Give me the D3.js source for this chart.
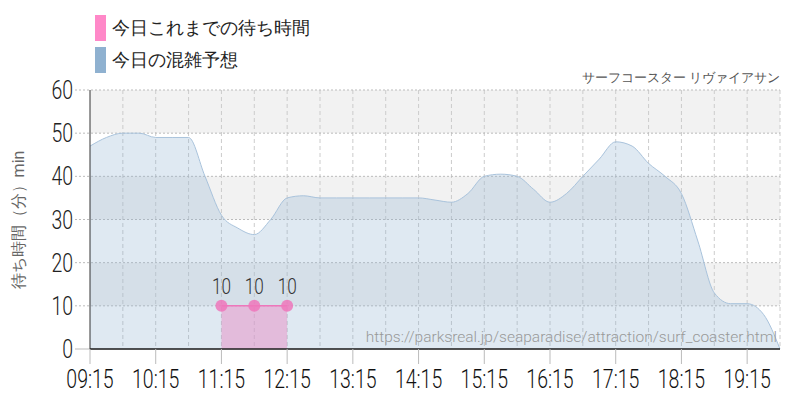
<!DOCTYPE html>
<html><head><meta charset="utf-8">
<script src="https://cdn.jsdelivr.net/npm/d3@7"></script>
<style>body{margin:0;background:#fff}text{font-family:Roboto,sans-serif}</style>
</head><body><svg id="c" width="800" height="400"></svg>
<script>
const forecastTimes=["09:15","09:30","09:45","10:00","10:15","10:30","10:45","11:00","11:15","11:30","11:45","12:00","12:15","12:30","12:45","13:00","13:15","13:30","13:45","14:00","14:15","14:30","14:45","15:00","15:15","15:30","15:45","16:00","16:15","16:30","16:45","17:00","17:15","17:30","17:45","18:00","18:15","18:30","18:45","19:00","19:15","19:30","19:45"];
const forecastValues=[47,49,50,50,49,49,49,40,31,28,26.5,30,35,35.5,35,35,35,35,35,35,35,34.5,34,36,40,40.5,40,37,34,36,40,44,48,47,43,40,36,25,13,10.5,10.5,8,0];
const actualTimes=["11:15","11:45","12:15"];
const actualValues=[10,10,10];
const yTicks=[0,10,20,30,40,50,60];
const xTickLabels=["09:15","10:15","11:15","12:15","13:15","14:15","15:15","16:15","17:15","18:15","19:15"];
const toMin=s=>{const[h,m]=s.split(":").map(Number);return h*60+m;};
const svg=d3.select("#c");
const L=90,R=780,T=90,B=349;
const x=d3.scaleLinear().domain([toMin("09:15"),toMin("19:45")]).range([L,R]);
const y=d3.scaleLinear().domain([0,60]).range([B,T]);
function ntext(px,py,anchor,size,fill,str){
 return svg.append("text").attr("transform",`translate(${px},${py}) scale(0.78,1)`).attr("text-anchor",anchor).attr("font-size",size).attr("font-weight",300).attr("fill",fill).text(str);}
[[10,20],[30,40],[50,60]].forEach(b=>svg.append("rect").attr("x",L).attr("width",R-L).attr("y",y(b[1])).attr("height",y(b[0])-y(b[1])).attr("fill","#f2f2f2"));
for(let m=toMin("09:45");m<=toMin("19:45");m+=30)svg.append("line").attr("x1",x(m)).attr("x2",x(m)).attr("y1",T).attr("y2",B).attr("stroke","#ccc").attr("stroke-dasharray","4,3");
yTicks.forEach(v=>{svg.append("line").attr("x1",75).attr("x2",R).attr("y1",y(v)).attr("y2",y(v)).attr("stroke","#bbb").attr("stroke-dasharray",v?"2,2":null);
ntext(73,y(v)+9,"end",25,"#222",v);});
const fd=forecastTimes.map((t,i)=>[toMin(t),forecastValues[i]]);
svg.append("path").datum(fd).attr("d",d3.area().x(d=>x(d[0])).y0(y(0)).y1(d=>y(d[1])).curve(d3.curveMonotoneX)).attr("fill","rgba(140,175,210,0.28)");
svg.append("path").datum(fd).attr("d",d3.line().x(d=>x(d[0])).y(d=>y(d[1])).curve(d3.curveMonotoneX)).attr("fill","none").attr("stroke","#a9c3dc").attr("stroke-width",1);
const ad=actualTimes.map((t,i)=>[toMin(t),actualValues[i]]);
svg.append("path").datum(ad).attr("d",d3.area().x(d=>x(d[0])).y0(y(0)).y1(d=>y(d[1]))).attr("fill","rgba(230,150,200,0.55)");
svg.append("path").datum(ad).attr("d",d3.line().x(d=>x(d[0])).y(d=>y(d[1]))).attr("fill","none").attr("stroke","#ee77bb").attr("stroke-width",1.5);
ad.forEach(d=>{svg.append("circle").attr("cx",x(d[0])).attr("cy",y(d[1])).attr("r",6).attr("fill","#ee77bb").attr("opacity",0.85);
ntext(x(d[0]),y(d[1])-12,"middle",22,"#333",d[1]);});
svg.append("line").attr("x1",L).attr("x2",L).attr("y1",T).attr("y2",B).attr("stroke","#333");
svg.append("line").attr("x1",L).attr("x2",R).attr("y1",B).attr("y2",B).attr("stroke","#222").attr("stroke-width",1.5);
xTickLabels.forEach(t=>{svg.append("line").attr("x1",x(toMin(t))).attr("x2",x(toMin(t))).attr("y1",B).attr("y2",B+15).attr("stroke","#bbb");
ntext(x(toMin(t)),388,"middle",25,"#111",t);});
svg.append("text").attr("x",777).attr("y",342).attr("text-anchor","end").attr("font-size",15.5).attr("font-weight",300).attr("fill","#999").text("https://parksreal.jp/seaparadise/attraction/surf_coaster.html");
svg.append("text").attr("x",780).attr("y",82).attr("text-anchor","end").attr("font-size",13).attr("fill","#555").text("サーフコースター リヴァイアサン");
svg.append("text").attr("transform","translate(24,220) rotate(-90)").attr("text-anchor","middle").attr("font-size",16).attr("fill","#666").text("待ち時間（分）min");
[["今日これまでの待ち時間","#ff88c8",27],["今日の混雑予想","#8fb1d0",59]].forEach(l=>{svg.append("rect").attr("x",95).attr("y",l[2]-12).attr("width",11).attr("height",26).attr("fill",l[1]);
svg.append("text").attr("x",112).attr("y",l[2]+7).attr("font-size",17.5).attr("font-family","'Noto Sans CJK JP'").attr("fill","#222").text(l[0]);});
</script></body></html>
